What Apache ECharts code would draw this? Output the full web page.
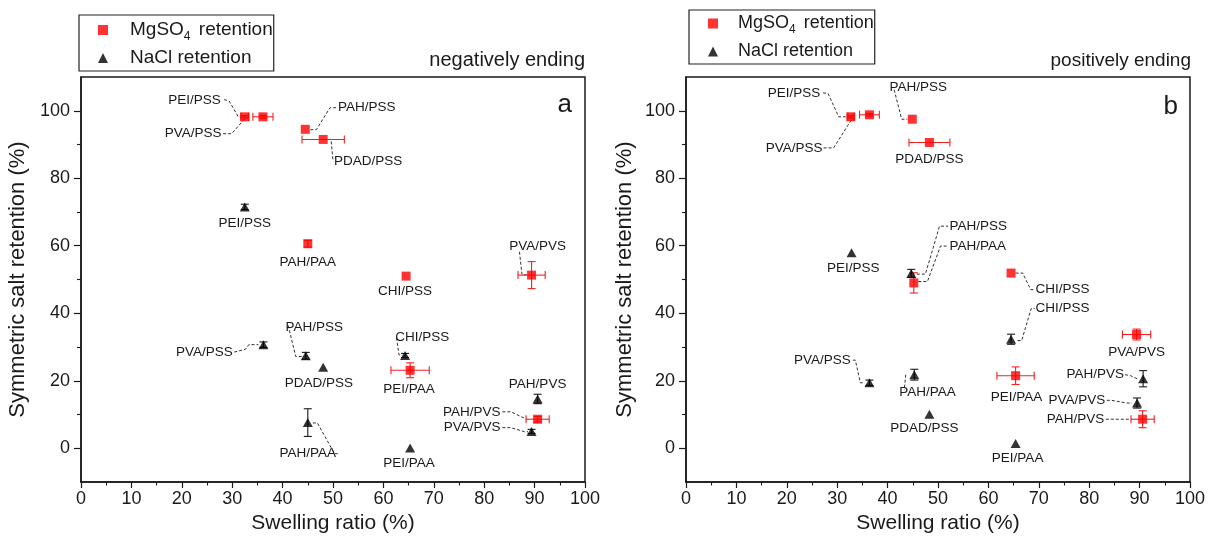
<!DOCTYPE html>
<html>
<head>
<meta charset="utf-8">
<title>Symmetric salt retention vs swelling ratio</title>
<script src="https://cdn.jsdelivr.net/npm/echarts@6/dist/echarts.min.js"></script>
<style>
  html, body { margin: 0; padding: 0; background: #fff; }
  #chart { width: 1208px; height: 548px; }
</style>
</head>
<body>
<div id="chart"></div>
<script>
// ---- data -------------------------------------------------------------
// each row: [swelling ratio %, retention %, swelling error, retention error, pair]
const aMgSO4 = [
  [32.5, 98.2, 0.8, 0.4, 'PEI/PSS'],
  [36.1, 98.2, 2.0, 0.4, 'PVA/PSS'],
  [44.5, 94.5, 0, 0, 'PAH/PSS'],
  [48.05, 91.5, 4.2, 0, 'PDAD/PSS'],
  [45.0, 60.6, 0, 1.0, 'PAH/PAA'],
  [64.5, 51.0, 0, 0, 'CHI/PSS'],
  [89.4, 51.3, 2.7, 4.0, 'PVA/PVS'],
  [65.3, 23.1, 3.8, 2.2, 'PEI/PAA'],
  [90.6, 8.6, 2.3, 0.8, 'PAH/PVS']
];
const aNaCl = [
  [32.5, 71.5, 0, 0.8, 'PEI/PSS'],
  [36.2, 30.7, 0, 0.8, 'PVA/PSS'],
  [44.6, 27.4, 0, 1.0, 'PAH/PSS'],
  [48.05, 24.0, 0, 0, 'PDAD/PSS'],
  [45.0, 7.6, 0, 4.1, 'PAH/PAA'],
  [64.3, 27.5, 0, 0.6, 'CHI/PSS'],
  [65.3, 0.1, 0, 0, 'PEI/PAA'],
  [90.6, 14.6, 0, 1.4, 'PAH/PVS'],
  [89.4, 5.0, 0, 0.6, 'PVA/PVS']
];
const bMgSO4 = [
  [32.7, 98.2, 0.6, 0.4, 'PEI/PSS'],
  [36.4, 98.8, 1.96, 0.4, 'PVA/PSS'],
  [44.9, 97.5, 0, 0, 'PAH/PSS'],
  [48.3, 90.6, 4.06, 0, 'PDAD/PSS'],
  [45.2, 49.0, 0, 3.0, 'PAH/PAA'],
  [64.5, 51.9, 0, 0, 'CHI/PSS'],
  [89.4, 33.7, 2.8, 1.6, 'PVA/PVS'],
  [65.4, 21.5, 3.7, 2.6, 'PEI/PAA'],
  [90.6, 8.6, 2.3, 2.5, 'PAH/PVS']
];
const bNaCl = [
  [32.85, 57.9, 0, 0, 'PEI/PSS'],
  [44.7, 51.8, 0, 1.2, 'PAH/PSS'],
  [36.4, 19.4, 0, 0.8, 'PVA/PSS'],
  [45.3, 21.8, 0, 1.6, 'PAH/PAA'],
  [48.3, 10.1, 0, 0, 'PDAD/PSS'],
  [64.5, 32.3, 0, 1.5, 'CHI/PSS'],
  [65.4, 1.4, 0, 0, 'PEI/PAA'],
  [90.7, 20.6, 0, 2.4, 'PAH/PVS'],
  [89.5, 13.4, 0, 1.5, 'PVA/PVS']
];

// axis ticks
const yMajorTicks = [0, 20, 40, 60, 80, 100];
const yMinorTicks = [10, 30, 50, 70, 90];

// ---- annotation layout (axis units) -------------------------------------
// pair labels: [x, y, text, alignment]
const aNotes = [
  [27.75, 103.1, 'PEI/PSS', 'right'],
  [27.9, 93.2, 'PVA/PSS', 'right'],
  [51.0, 100.9, 'PAH/PSS', 'left'],
  [50.2, 85.1, 'PDAD/PSS', 'left'],
  [32.5, 66.6, 'PEI/PSS', 'center'],
  [45.0, 55.2, 'PAH/PAA', 'center'],
  [64.3, 46.6, 'CHI/PSS', 'center'],
  [90.6, 59.9, 'PVA/PVS', 'center'],
  [46.3, 35.9, 'PAH/PSS', 'center'],
  [30.1, 28.5, 'PVA/PSS', 'right'],
  [47.2, 19.2, 'PDAD/PSS', 'center'],
  [67.7, 32.8, 'CHI/PSS', 'center'],
  [65.1, 17.5, 'PEI/PAA', 'center'],
  [45.0, -1.4, 'PAH/PAA', 'center'],
  [65.1, -4.4, 'PEI/PAA', 'center'],
  [90.6, 18.9, 'PAH/PVS', 'center'],
  [83.25, 10.8, 'PAH/PVS', 'right'],
  [83.25, 6.1, 'PVA/PVS', 'right']
];
const bNotes = [
  [26.65, 105.3, 'PEI/PSS', 'right'],
  [27.1, 89.0, 'PVA/PSS', 'right'],
  [46.1, 106.9, 'PAH/PSS', 'center'],
  [48.3, 85.6, 'PDAD/PSS', 'center'],
  [33.2, 53.4, 'PEI/PSS', 'center'],
  [52.3, 65.8, 'PAH/PSS', 'left'],
  [52.3, 59.9, 'PAH/PAA', 'left'],
  [69.35, 47.0, 'CHI/PSS', 'left'],
  [69.35, 41.4, 'CHI/PSS', 'left'],
  [89.4, 28.5, 'PVA/PVS', 'center'],
  [32.7, 26.1, 'PVA/PSS', 'right'],
  [47.9, 16.7, 'PAH/PAA', 'center'],
  [47.3, 5.8, 'PDAD/PSS', 'center'],
  [65.6, 15.2, 'PEI/PAA', 'center'],
  [65.8, -3.1, 'PEI/PAA', 'center'],
  [86.9, 21.8, 'PAH/PVS', 'right'],
  [83.2, 14.2, 'PVA/PVS', 'right'],
  [83.0, 8.6, 'PAH/PVS', 'right']
];
// dashed leader lines joining labels to their points
const aLeaders = [
  [[28.4, 103.3], [29.4, 102.9], [31.2, 98.2], [32.0, 98.2]],
  [[28.2, 93.2], [29.9, 93.2], [32.7, 98.0]],
  [[45.5, 94.4], [46.7, 94.4], [49.4, 100.9], [50.6, 100.9]],
  [[49.0, 91.5], [49.6, 91.5], [50.0, 85.3]],
  [[87.0, 58.2], [87.5, 51.4], [88.4, 51.4]],
  [[41.1, 36.4], [42.6, 27.2], [43.9, 27.2]],
  [[30.4, 28.5], [32.6, 29.3], [33.3, 30.7], [35.2, 30.7]],
  [[62.6, 32.7], [63.1, 27.6], [63.8, 27.6]],
  [[46.0, 7.5], [46.9, 7.5], [50.3, -1.6], [51.0, -1.6]],
  [[83.6, 10.8], [85.3, 10.8], [88.4, 8.6]],
  [[83.6, 6.1], [85.3, 6.1], [88.0, 4.9], [88.7, 4.9]]
];
const bLeaders = [
  [[27.2, 105.3], [28.2, 105.1], [30.3, 98.2], [31.7, 98.2]],
  [[27.3, 89.0], [29.3, 89.0], [33.1, 98.0]],
  [[41.3, 106.2], [42.8, 97.5], [43.9, 97.5]],
  [[45.8, 51.6], [47.5, 51.6], [50.3, 65.8], [52.0, 65.8]],
  [[46.1, 49.4], [47.9, 49.4], [50.5, 59.9], [52.0, 59.9]],
  [[65.4, 51.9], [66.8, 51.9], [68.4, 47.0], [69.1, 47.0]],
  [[65.8, 31.9], [66.6, 31.9], [68.5, 41.4], [69.2, 41.4]],
  [[33.1, 26.1], [33.6, 26.1], [34.6, 19.4], [35.5, 19.4]],
  [[43.6, 21.8], [43.3, 17.2]],
  [[87.1, 21.8], [88.2, 21.5], [89.5, 20.6]],
  [[83.5, 14.2], [84.4, 14.2], [87.5, 13.4], [88.5, 13.4]],
  [[83.3, 8.6], [88.4, 8.6]]
];

// ---- styling -----------------------------------------------------------
const FONT = '"Liberation Sans", Arial, Helvetica, sans-serif';
const INK = '#1a1a1a';
const RED = '#ff0000';
const MG = 'MgSO4 retention';
const NA = 'NaCl retention';

function errorBarRenderer(color) {
  return function (params, api) {
    const x = api.value(0), y = api.value(1);
    const ex = api.value(2), ey = api.value(3);
    const cap = 4;
    const style = { stroke: color, lineWidth: 1.1, fill: null };
    const kids = [];
    const seg = (x1, y1, x2, y2) => kids.push({ type: 'line', shape: { x1, y1, x2, y2 }, style });
    if (ex > 0) {
      const l = api.coord([x - ex, y]), r = api.coord([x + ex, y]);
      seg(l[0], l[1], r[0], r[1]);
      seg(l[0], l[1] - cap, l[0], l[1] + cap);
      seg(r[0], r[1] - cap, r[0], r[1] + cap);
    }
    if (ey > 0) {
      const t = api.coord([x, y + ey]), b = api.coord([x, y - ey]);
      seg(t[0], t[1], b[0], b[1]);
      seg(t[0] - cap, t[1], t[0] + cap, t[1]);
      seg(b[0] - cap, b[1], b[0] + cap, b[1]);
    }
    return { type: 'group', children: kids };
  };
}

function noteRenderer(notes) {
  return function (params, api) {
    const n = notes[params.dataIndex];
    const p = api.coord([n[0], n[1]]);
    return {
      type: 'text',
      x: p[0], y: p[1],
      style: {
        text: n[2], fill: INK, font: '13.5px ' + FONT,
        textAlign: n[3], textVerticalAlign: 'middle'
      }
    };
  };
}

function panelSeries(idx, mg, na, notes, leaders) {
  const axes = { xAxisIndex: idx, yAxisIndex: idx * 2 };
  return [
    {
      type: 'lines', coordinateSystem: 'cartesian2d', ...axes, polyline: true,
      silent: true, symbol: 'none', z: 1,
      lineStyle: { color: INK, width: 0.9, type: [3, 2], opacity: 1 },
      data: leaders.map(c => ({ coords: c }))
    },
    {
      type: 'custom', ...axes, z: 2, silent: true,
      renderItem: errorBarRenderer('#f02020'),
      encode: { x: 0, y: 1 },
      data: mg.map(r => r.slice(0, 4))
    },
    {
      type: 'custom', ...axes, z: 2, silent: true,
      renderItem: errorBarRenderer(INK),
      encode: { x: 0, y: 1 },
      data: na.map(r => r.slice(0, 4))
    },
    {
      name: MG, type: 'scatter', ...axes, z: 3,
      symbol: 'rect', symbolSize: 9,
      itemStyle: { color: RED },
      data: mg.map(r => [r[0], r[1]])
    },
    {
      name: NA, type: 'scatter', ...axes, z: 3,
      symbol: 'triangle', symbolSize: [10, 9],
      itemStyle: { color: '#000' },
      data: na.map(r => [r[0], r[1]])
    },
    {
      type: 'custom', ...axes, z: 4, silent: true,
      renderItem: noteRenderer(notes),
      encode: { x: 0, y: 1 },
      data: notes.map(n => [n[0], n[1]])
    }
  ];
}

function xAxisFor(gridIndex) {
  return {
    type: 'value', gridIndex, min: 0, max: 100, interval: 10,
    name: 'Swelling ratio (%)', nameLocation: 'middle', nameGap: 28,
    nameTextStyle: { fontFamily: FONT, fontSize: 21, color: INK },
    axisLine: { show: true, onZero: false, lineStyle: { color: INK, width: 1.5 } },
    axisTick: { show: true, length: 6, lineStyle: { color: INK, width: 1.2 } },
    minorTick: { show: true, splitNumber: 2, length: 3.5, lineStyle: { color: INK, width: 1.1 } },
    axisLabel: { fontFamily: FONT, fontSize: 18, color: INK, margin: 8 },
    splitLine: { show: false }
  };
}

function yAxesFor(gridIndex, nameGap) {
  return [
    {
      type: 'value', gridIndex, min: -10, max: 110,
      name: 'Symmetric salt retention (%)', nameLocation: 'middle', nameGap,
      nameTextStyle: { fontFamily: FONT, fontSize: 22, color: INK },
      axisLine: { show: true, onZero: false, lineStyle: { color: INK, width: 1.5 } },
      axisTick: { show: true, length: 7, customValues: yMajorTicks, lineStyle: { color: INK, width: 1.2 } },
      axisLabel: { fontFamily: FONT, fontSize: 18, color: INK, margin: 11, customValues: yMajorTicks },
      splitLine: { show: false }
    },
    {
      type: 'value', gridIndex, min: -10, max: 110, position: 'left',
      axisLine: { show: false, onZero: false },
      axisTick: { show: true, length: 4, customValues: yMinorTicks, lineStyle: { color: INK, width: 1.1 } },
      axisLabel: { show: false },
      splitLine: { show: false }
    }
  ];
}

function legendFor(left, top, size, lineH, gap, textPad, padding) {
  return {
    left, top, orient: 'vertical',
    data: [{ name: MG, icon: 'rect' }, { name: NA, icon: 'triangle' }],
    itemWidth: 10, itemHeight: 10, itemGap: gap,
    padding, borderColor: '#222', borderWidth: 1.2,
    selectedMode: false,
    formatter: name => name === MG ? '{n|MgSO}{s|4}{n| retention}' : '{n|' + name + '}',
    textStyle: {
      fontFamily: FONT, fontSize: size, color: INK, lineHeight: lineH,
      padding: [0, 0, 0, textPad],
      rich: {
        n: { fontFamily: FONT, fontSize: size, lineHeight: lineH, color: INK },
        s: { fontFamily: FONT, fontSize: 12, lineHeight: 12, color: INK,
             verticalAlign: 'top', padding: [lineH - 12, 3, 0, 0] }
      }
    }
  };
}

const chart = echarts.init(document.getElementById('chart'), null, { renderer: 'canvas' });
chart.setOption({
  animation: false,
  backgroundColor: '#fff',
  textStyle: { fontFamily: FONT },
  title: [
    { text: 'negatively ending', right: 623, top: 50, padding: 0,
      textStyle: { fontFamily: FONT, fontSize: 20, fontWeight: 'normal', color: INK } },
    { text: 'positively ending', right: 17, top: 51, padding: 0,
      textStyle: { fontFamily: FONT, fontSize: 19, fontWeight: 'normal', color: INK } },
    { text: 'a', right: 636, top: 92, padding: 0,
      textStyle: { fontFamily: FONT, fontSize: 26, fontWeight: 'normal', color: INK } },
    { text: 'b', right: 30, top: 94, padding: 0,
      textStyle: { fontFamily: FONT, fontSize: 26, fontWeight: 'normal', color: INK } }
  ],
  legend: [
    legendFor(79, 15, 19, 26, 2, 17, [2, 1, 0, 19]),
    legendFor(689, 10, 18, 25, 3, 15, [1, 1, 0, 19])
  ],
  grid: [
    { left: 81, right: 623, top: 77, bottom: 66, show: true, borderColor: INK, borderWidth: 1.5, backgroundColor: 'transparent' },
    { left: 686, right: 17, top: 77, bottom: 66, show: true, borderColor: INK, borderWidth: 1.5, backgroundColor: 'transparent' }
  ],
  xAxis: [xAxisFor(0), xAxisFor(1)],
  yAxis: [...yAxesFor(0, 52), ...yAxesFor(1, 50)],
  series: [
    ...panelSeries(0, aMgSO4, aNaCl, aNotes, aLeaders),
    ...panelSeries(1, bMgSO4, bNaCl, bNotes, bLeaders)
  ]
});
</script>
</body>
</html>
